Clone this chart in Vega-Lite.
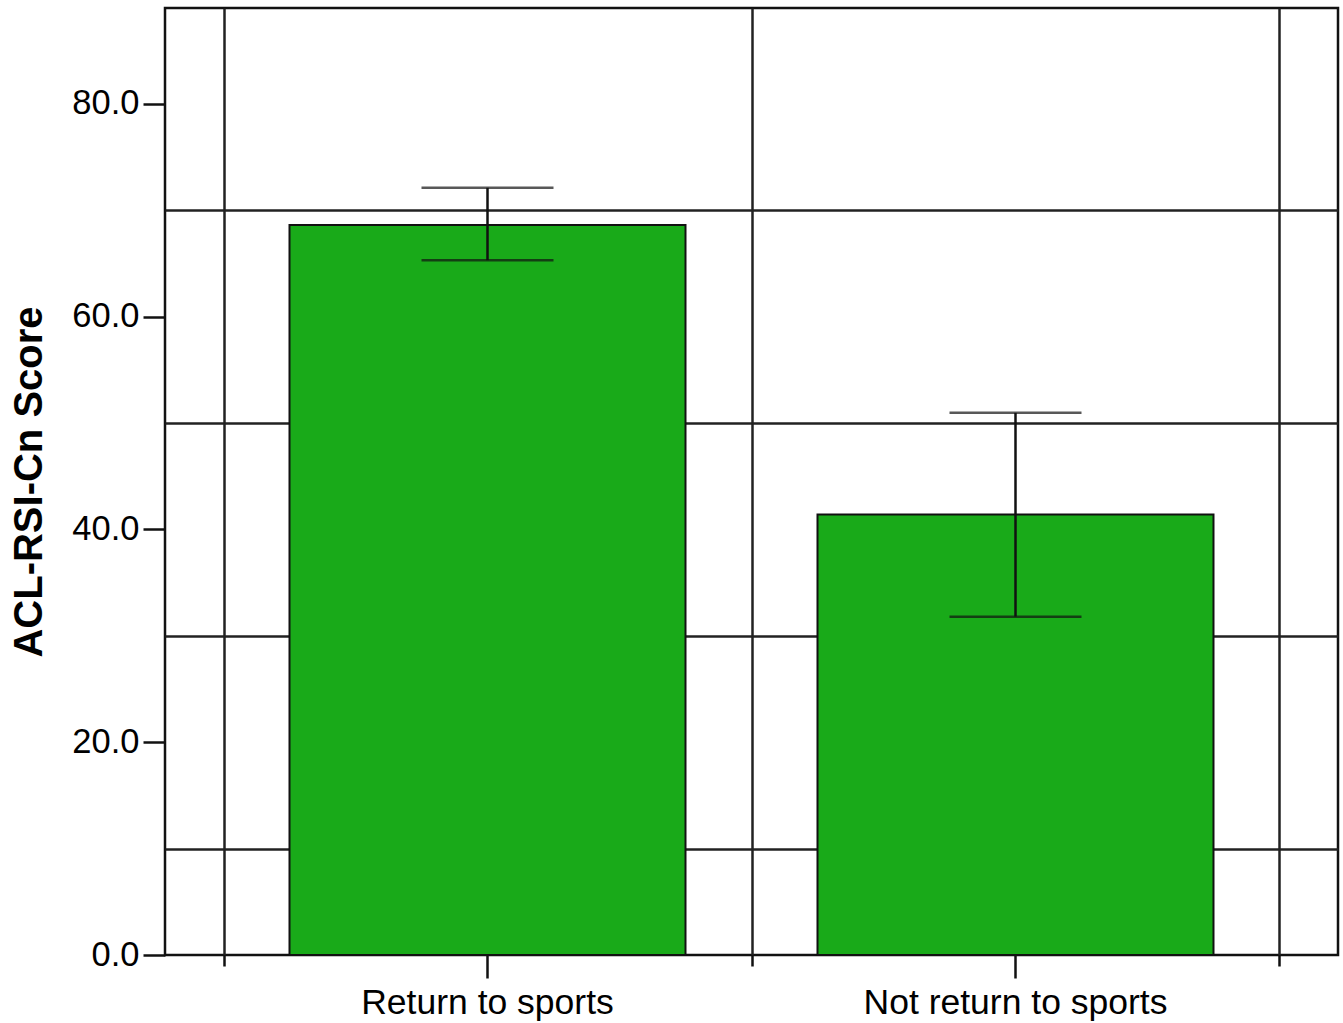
{
  "$schema": "https://vega.github.io/schema/vega-lite/v6.json",
  "width": 1173,
  "height": 947,
  "autosize": {"type": "none"},
  "padding": {"left": 165, "top": 8, "right": 5, "bottom": 68},
  "background": "white",
  "config": {
    "view": {"stroke": "#111", "strokeWidth": 2.5},
    "font": "Liberation Sans"
  },
  "data": {
    "values": [
      {"group": "Return to sports", "mean": 68.6, "lower": 65.3, "upper": 72.1},
      {"group": "Not return to sports", "mean": 41.4, "lower": 31.8, "upper": 50.95}
    ]
  },
  "layer": [
    {
      "mark": {"type": "bar", "color": "#19aa19", "stroke": "#111", "strokeWidth": 2, "width": {"band": 0.75}},
      "encoding": {
        "x": {
          "field": "group", "type": "nominal", "sort": null,
          "scale": {"paddingInner": 0, "paddingOuter": 0.1108},
          "axis": {"title": null, "domain": false, "grid": false, "labelAngle": 0, "labelLimit": 0, "labelFontSize": 35.5, "labelColor": "#000", "labelFont": "Liberation Sans", "tickSize": 23, "tickWidth": 2.5, "tickColor": "#111", "labelPadding": 7}
        },
        "y": {
          "field": "mean", "type": "quantitative",
          "scale": {"domain": [0, 89], "nice": false, "zero": true},
          "axis": {"title": "ACL-RSI-Cn Score", "values": [0, 20, 40, 60, 80], "format": ".1f", "grid": false, "domain": false, "tickSize": 22, "tickWidth": 2.5, "tickColor": "#111", "labelFontSize": 34.5, "labelColor": "#000", "labelFont": "Liberation Sans", "labelPadding": 4, "titleFontSize": 40, "titleFontWeight": "bold", "titleColor": "#000", "titleFont": "Liberation Sans", "titlePadding": 22}
        }
      }
    },
    {
      "mark": {"type": "rule", "color": "#111", "strokeWidth": 2.5},
      "encoding": {
        "x": {
          "field": "group", "type": "nominal", "sort": null,
          "axis": {"orient": "bottom", "title": null, "labels": false, "domain": false, "grid": true, "gridColor": "#222", "gridWidth": 2.5, "gridOpacity": 1, "tickBand": "extent", "tickSize": 11, "tickWidth": 2.5, "tickColor": "#111"}
        },
        "y": {
          "field": "lower", "type": "quantitative",
          "axis": {"orient": "left", "title": null, "labels": false, "ticks": false, "domain": false, "grid": true, "values": [10, 30, 50, 70], "gridColor": "#222", "gridWidth": 2.5, "gridOpacity": 1}
        },
        "y2": {"field": "upper"}
      }
    },
    {
      "mark": {"type": "tick", "color": "#111", "thickness": 2.5, "size": 132, "orient": "horizontal"},
      "encoding": {
        "x": {"field": "group", "type": "nominal", "sort": null, "axis": null},
        "y": {"field": "upper", "type": "quantitative", "axis": null}
      }
    },
    {
      "mark": {"type": "tick", "color": "#111", "thickness": 2.5, "size": 132, "orient": "horizontal"},
      "encoding": {
        "x": {"field": "group", "type": "nominal", "sort": null, "axis": null},
        "y": {"field": "lower", "type": "quantitative", "axis": null}
      }
    }
  ],
  "resolve": {"axis": {"x": "independent", "y": "independent"}}
}
